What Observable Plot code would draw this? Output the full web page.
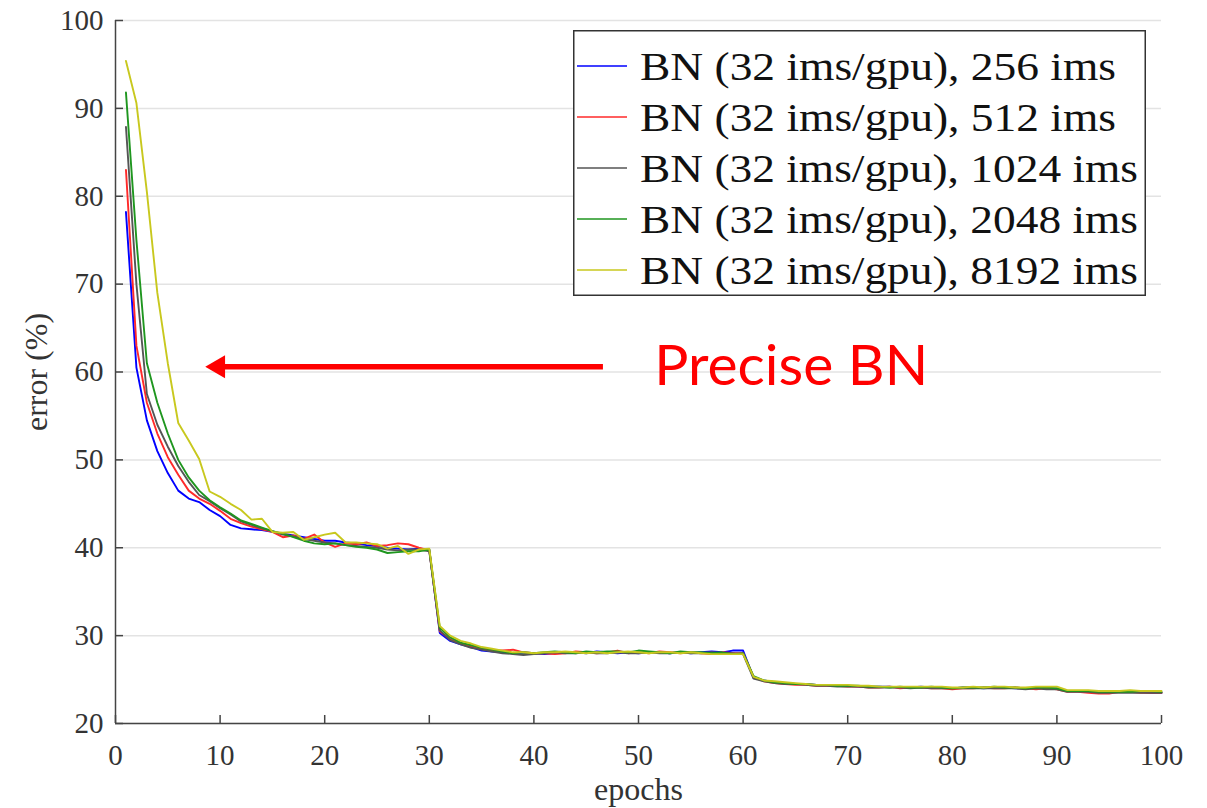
<!DOCTYPE html>
<html>
<head>
<meta charset="utf-8">
<script src="https://cdn.jsdelivr.net/npm/d3@7"></script>
<script src="https://cdn.jsdelivr.net/npm/@observablehq/plot@0.6"></script>
<style>
  html, body { margin: 0; padding: 0; background: #fff; }
  #wrap { position: relative; width: 1207px; height: 808px; }
  #legend { position: absolute; left: 573px; top: 30px; }
</style>
</head>
<body>
<div id="wrap"><div id="chart"></div><div id="legend"></div></div>
<script>
// ---- data ----
const seriesNames = [
  "BN (32 ims/gpu), 256 ims",
  "BN (32 ims/gpu), 512 ims",
  "BN (32 ims/gpu), 1024 ims",
  "BN (32 ims/gpu), 2048 ims",
  "BN (32 ims/gpu), 8192 ims"
];
const seriesColors = ["#0000ff", "#ff2a2a", "#555555", "#1f961f", "#c8c81e"];

const epochs = d3.range(1, 101);

const err256 = [
  78.2, 60.5, 54.5, 51.0, 48.5, 46.5, 45.6, 45.2, 44.3, 43.6,
  42.6, 42.2, 42.1, 42.0, 41.8, 41.6, 41.4, 41.2, 41.0, 40.8,
  40.8, 40.6, 40.5, 40.3, 40.2, 40.0, 39.9, 39.8, 39.9, 39.8,
  30.3, 29.4, 29.0, 28.7, 28.3, 28.2, 28.1, 28.0, 27.9, 28.0,
  27.9, 28.0, 28.1, 28.1, 28.0, 28.2, 28.1, 28.0, 28.1, 28.0,
  28.1, 28.1, 28.0, 28.1, 28.0, 28.1, 28.2, 28.1, 28.3, 28.3,
  25.2, 24.9, 24.7, 24.6, 24.5, 24.5, 24.4, 24.4, 24.3, 24.3,
  24.2, 24.2, 24.2, 24.2, 24.1, 24.1, 24.2, 24.1, 24.1, 24.0,
  24.1, 24.1, 24.0, 24.1, 24.1, 24.0, 24.0, 24.1, 24.0, 24.0,
  23.7, 23.7, 23.6, 23.6, 23.6, 23.6, 23.6, 23.6, 23.5, 23.5
];
const err512 = [
  83.0, 63.0, 56.5, 53.0, 50.3, 48.3, 46.5, 45.6, 45.0, 44.2,
  43.3, 42.8, 42.4, 42.1, 41.8, 41.2, 41.4, 41.0, 41.5, 40.6,
  40.1, 40.5, 40.4, 40.6, 40.2, 40.3, 40.5, 40.4, 40.0, 39.7,
  30.5, 29.6, 29.1, 28.8, 28.5, 28.3, 28.3, 28.4, 28.1, 28.0,
  28.0, 27.9, 28.0, 28.2, 28.1, 28.0, 28.1, 28.3, 28.0, 28.1,
  28.0, 28.2, 28.1, 28.0, 28.1, 28.0, 27.9, 28.1, 28.0, 28.0,
  25.3, 24.8, 24.6, 24.5, 24.4, 24.4, 24.3, 24.3, 24.3, 24.2,
  24.2, 24.1, 24.1, 24.2, 24.0, 24.1, 24.1, 24.0, 24.0, 23.9,
  24.0, 24.0, 24.1, 24.0, 24.0, 24.1, 24.0, 23.9, 24.0, 23.9,
  23.6, 23.6, 23.5, 23.4, 23.4, 23.6, 23.6, 23.5, 23.5, 23.5
];
const err1024 = [
  87.9, 70.0, 57.5, 54.0, 51.5, 49.3, 47.5, 46.0, 45.3, 44.5,
  43.8, 43.0, 42.6, 42.2, 41.9, 41.5, 41.3, 41.0, 40.8, 40.6,
  40.5, 40.3, 40.2, 40.1, 40.0, 39.8, 39.7, 39.8, 39.8, 39.6,
  30.6, 29.5, 29.0, 28.6, 28.4, 28.2, 28.0, 27.9, 27.8, 27.9,
  28.0, 28.1, 28.0, 28.0, 28.1, 28.0, 28.0, 28.1, 28.0, 28.0,
  28.1, 28.0, 28.0, 28.1, 28.0, 28.0, 28.1, 28.0, 28.0, 27.9,
  25.1, 24.8, 24.6, 24.5, 24.5, 24.4, 24.3, 24.3, 24.2, 24.2,
  24.2, 24.1, 24.1, 24.1, 24.1, 24.0, 24.1, 24.0, 24.0, 24.0,
  24.0, 24.0, 24.0, 24.0, 24.0, 24.0, 23.9, 24.0, 23.9, 23.9,
  23.6, 23.6, 23.6, 23.5, 23.5, 23.5, 23.5, 23.5, 23.5, 23.5
];
const err2048 = [
  91.8, 75.0, 61.0, 56.5, 53.0, 50.0, 48.0, 46.5, 45.4, 44.6,
  43.9, 43.1, 42.7, 42.3, 41.9, 41.6, 41.2, 40.8, 40.5, 40.4,
  40.5, 40.3, 40.1, 40.0, 39.8, 39.4, 39.5, 39.6, 39.6, 39.8,
  30.9, 29.8, 29.2, 28.9, 28.6, 28.4, 28.2, 28.0, 28.1, 28.0,
  28.1, 28.2, 28.1, 28.0, 28.2, 28.1, 28.2, 28.2, 28.1, 28.3,
  28.2, 28.1, 28.0, 28.2, 28.1, 28.1, 28.0, 28.1, 27.9, 28.0,
  25.4, 24.9, 24.7, 24.6, 24.5, 24.5, 24.4, 24.4, 24.3, 24.3,
  24.3, 24.2, 24.2, 24.1, 24.2, 24.1, 24.1, 24.2, 24.1, 24.0,
  24.1, 24.1, 24.1, 24.2, 24.1, 24.1, 24.0, 24.1, 24.1, 24.0,
  23.7, 23.7, 23.7, 23.6, 23.6, 23.6, 23.6, 23.7, 23.7, 23.6
];
const err8192 = [
  95.4, 90.6, 80.5, 69.0, 61.0, 54.2, 52.2, 50.1, 46.4, 45.8,
  45.0, 44.3, 43.2, 43.3, 41.8, 41.7, 41.8, 40.9, 41.2, 41.5,
  41.7, 40.6, 40.6, 40.5, 40.4, 39.9, 40.2, 39.3, 39.8, 39.9,
  31.1, 30.0, 29.4, 29.1, 28.7, 28.5, 28.3, 28.1, 28.1, 28.0,
  28.1, 28.1, 28.2, 28.1, 28.0, 28.1, 28.0, 28.1, 28.2, 28.1,
  28.0, 28.1, 28.1, 28.0, 28.1, 28.0, 27.9, 27.9, 27.9, 27.9,
  25.3, 24.9, 24.8, 24.7, 24.6, 24.5, 24.4, 24.4, 24.4, 24.4,
  24.3, 24.3, 24.2, 24.2, 24.2, 24.2, 24.2, 24.2, 24.2, 24.1,
  24.1, 24.2, 24.1, 24.2, 24.2, 24.1, 24.1, 24.2, 24.2, 24.2,
  23.8, 23.8, 23.8, 23.7, 23.7, 23.7, 23.8, 23.7, 23.7, 23.7
];
const seriesValues = [err256, err512, err1024, err2048, err8192];

const xTicks = [0, 10, 20, 30, 40, 50, 60, 70, 80, 90, 100];
const yTicks = [20, 30, 40, 50, 60, 70, 80, 90, 100];

// annotation: arrow from label toward the curves
const annotText = ["Precise BN"];
const arrowFrom = [46.6];
const arrowTo = [8.6];
const arrowY = [60.6];
const textX = [51.5];

// ---- table ----
const rows = [];
seriesNames.forEach((name, i) => {
  epochs.forEach((e, j) => rows.push({series: name, epoch: e, err: seriesValues[i][j]}));
});

const serif = "'Liberation Serif', 'Times New Roman', serif";

const chart = Plot.plot({
  width: 1207,
  height: 808,
  marginLeft: 115,
  marginRight: 46,
  marginTop: 20,
  marginBottom: 85,
  style: {fontFamily: serif, fontSize: "29px", color: "#333", background: "#fff"},
  x: {domain: [0, 100], label: null},
  y: {domain: [20, 100], label: null},
  color: {domain: seriesNames, range: seriesColors},
  marks: [
    Plot.gridY(yTicks, {stroke: "#e3e3e3", strokeOpacity: 1, strokeWidth: 1.5}),
    Plot.line(rows, {x: "epoch", y: "err", z: "series", stroke: "series", strokeWidth: 1.9}),
    Plot.ruleX([0], {stroke: "#444", strokeWidth: 1.5}),
    Plot.ruleY([20], {stroke: "#444", strokeWidth: 1.5}),
    Plot.axisX(xTicks, {tickSize: -8, tickPadding: 29, stroke: "#444", strokeWidth: 1.5, fill: "#333", fontSize: 29, label: null}),
    Plot.axisY(yTicks, {tickSize: -8, tickPadding: 20, stroke: "#444", strokeWidth: 1.5, fill: "#333", fontSize: 29, label: null}),
    Plot.text(["epochs"], {frameAnchor: "bottom", textAnchor: "middle", dy: 66, lineAnchor: "middle", fontSize: 32, fill: "#333"}),
    Plot.text(["error (%)"], {frameAnchor: "left", textAnchor: "middle", dx: -79, rotate: -90, lineAnchor: "middle", fontSize: 32, fill: "#333"}),
    Plot.link(arrowY, {x1: (d, i) => arrowFrom[i], x2: (d, i) => arrowTo[i] + 1.6, y1: d => d, y2: d => d, stroke: "#ff0000", strokeWidth: 5.5}),
    Plot.dot(arrowY, {x: (d, i) => arrowTo[i], y: d => d, symbol: "triangle", r: 8.5, rotate: -90, dx: 13, fill: "#ff0000", stroke: "none"}),
    Plot.text(annotText, {x: (d, i) => textX[i], y: (d, i) => arrowY[i], text: d => d, textAnchor: "start", lineAnchor: "middle", fontFamily: "Lato, 'Liberation Sans', sans-serif", fontSize: 57, fill: "#ff0000"})
  ]
});
document.getElementById("chart").append(chart);

// ---- legend (inside the axes, top right) ----
const lgW = 573, lgH = 266, rowH = 51, firstY = 36;
const lg = d3.select("#legend").append("svg").attr("width", lgW).attr("height", lgH);
lg.append("rect").attr("x", 0.75).attr("y", 0.75).attr("width", lgW - 1.5).attr("height", lgH - 1.5)
  .attr("fill", "#fff").attr("stroke", "#333").attr("stroke-width", 1.5);
seriesNames.forEach((name, i) => {
  const cy = firstY + i * rowH;
  lg.append("line").attr("x1", 4).attr("x2", 54).attr("y1", cy).attr("y2", cy)
    .attr("stroke", seriesColors[i]).attr("stroke-width", 1.6);
  lg.append("text").attr("x", 67).attr("y", cy).attr("dy", "0.34em")
    .attr("font-family", serif).attr("font-size", 40).attr("fill", "#111")
    .attr("textLength", name.length > 24 ? 498 : 476).attr("lengthAdjust", "spacingAndGlyphs")
    .text(name);
});
</script>
</body>
</html>
